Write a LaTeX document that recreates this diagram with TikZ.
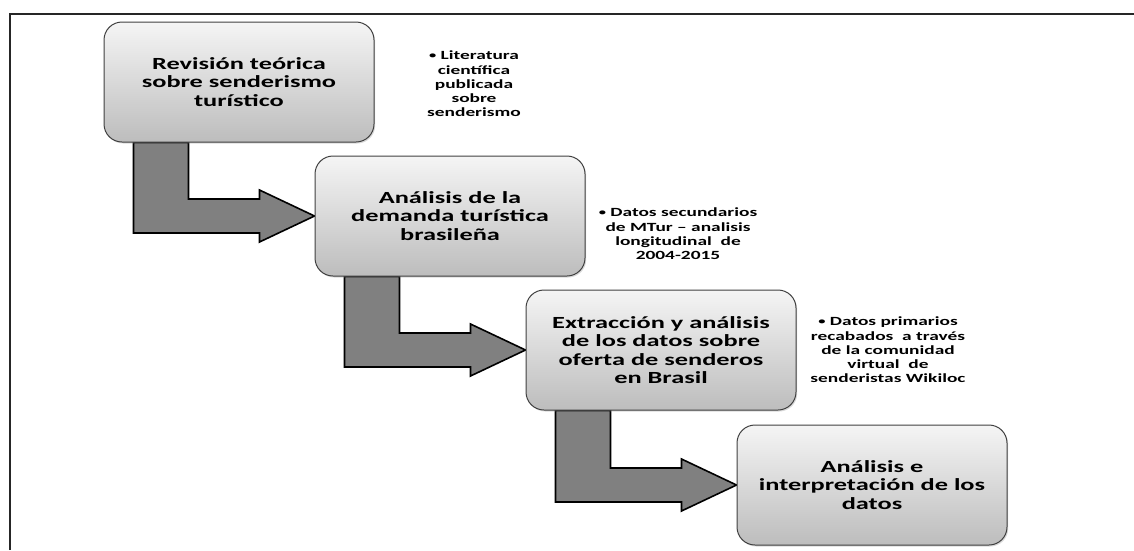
\documentclass[tikz,border=0pt]{standalone}
\usepackage{fontspec}
\newfontfamily\stagefont{Carlito}[FakeStretch=1.55]
\usetikzlibrary{calc,backgrounds,shadows}

\tikzset{
  stage/.style={draw=black!75, line width=1pt, rounded corners=18pt,
    top color=gray!8, bottom color=gray!52,
    drop shadow={shadow xshift=1.2pt, shadow yshift=-1.5pt, opacity=0.3},
    minimum width=270pt, minimum height=120pt, align=center,
    font=\stagefont\bfseries\fontsize{17}{18.5}\selectfont},
  note/.style={align=center, font=\stagefont\bfseries\fontsize{12.5}{14.3}\selectfont},
  flowarrow/.style={draw=black, fill=gray, line width=1.6pt, line join=miter},
}

% small bullet in front of each note
\newcommand{\notedot}{\raisebox{0.28ex}{\scalebox{0.75}{•}}}

% bent arrow from the bottom of one stage to the left side of the next
\newcommand{\bentarrow}[2]{%
  \draw[flowarrow] ($(#1.south west)+(30,0)$) -- ($(#1.south west)+(85,0)$)
    |- ($(#2.west)+(-55,-17)$) -- ++(0,-9) -- (#2.west) -- ++(-55,26) -- ++(0,-9)
    -| ($(#1.south west)+(30,0)$) -- cycle;
}

\begin{document}
\begin{tikzpicture}[x=1pt, y=-1pt]
    \useasboundingbox (0,0) rectangle (1134,550);
    \draw[line width=1.5pt, black!85] (10,550) -- (10,14) -- (1134,14);

    \node[stage] (revision) at (239,82) {Revisión teórica\\ sobre senderismo\\ turístico};
    \node[stage] (demanda) at (450,216) {Análisis de la\\ demanda turística\\ brasileña};
    \node[stage] (oferta) at (661,350) {Extracción y análisis\\ de los datos sobre\\ oferta de senderos\\ en Brasil};
    \node[stage] (interpretacion) at (872,485) {Análisis e\\ interpretación de los\\ datos};

    \node[note] (literatura) at (474,84) {\notedot\ Literatura\\ científica\\ publicada\\ sobre\\ senderismo};
    \node[note] (mtur) at (678,234) {\notedot\ Datos secundarios\\ de MTur – analisis\\ longitudinal~ de\\ 2004-2015};
    \node[note] (wikiloc) at (888,350) {\notedot\ Datos primarios\\ recabados~ a través\\ de la comunidad\\ virtual~ de\\ senderistas Wikiloc};

    \begin{scope}[on background layer]
        \bentarrow{revision}{demanda}
        \bentarrow{demanda}{oferta}
        \bentarrow{oferta}{interpretacion}
    \end{scope}
\end{tikzpicture}
\end{document}
